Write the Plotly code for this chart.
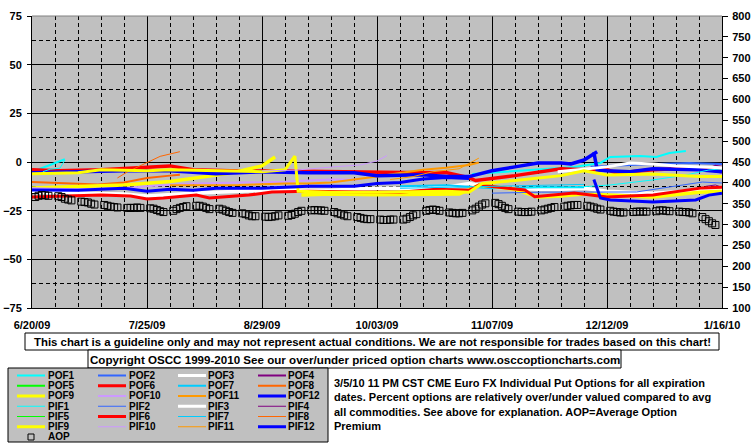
import plotly.graph_objects as go
import pandas as pd

START = pd.Timestamp("2009-06-20")
END = pd.Timestamp("2010-01-16")

# ---------------- data ----------------
x_tick_dates = ["2009-06-20", "2009-07-25", "2009-08-29", "2009-10-03", "2009-11-07", "2009-12-12", "2010-01-16"]
x_tick_labels = ["6/20/09", "7/25/09", "8/29/09", "10/03/09", "11/07/09", "12/12/09", "1/16/10"]
left_ticks = [-75, -50, -25, 0, 25, 50, 75]
right_ticks = [100, 150, 200, 250, 300, 350, 400, 450, 500, 550, 600, 650, 700, 750, 800]

# days after 6/20/09 and percent over/under values (None = gap)
POF1_days = [1.5, 5.5, 10, None, 134, 148, 165, 173, 176, 185, 190, 194, 199]
POF1_vals = [-4.1, -1.5, 1.4, None, -6.2, -4.6, -2.6, -0.5, 2.6, 3.1, 2.6, 4.6, 5.6]
POF2_days = [170, 182, 189, 200, 210]
POF2_vals = [-2.5, -1.5, -1.0, -0.5, -1.0]
POF3_days = [0, 14, 28, 35, 49, 63, 77, 91, 105, 119, 126, 133, 140, 154, 161, 168, 175, 189, 203, 210]
POF3_vals = [-15.5, -16, -16.5, -17.5, -16, -15, -14.5, -14.5, -13.5, -13.5, -13, -11, -13, -14, -14, -13.5, -15, -16, -14.5, -14]
POF4_days = [205, 208, 210]
POF4_vals = [-4.0, -2.0, -2.5]
POF5_days = []
POF5_vals = []
POF6_days = [0, 8, 21, 35, 42, 49, 63, 77, 91, 105, 119, 126, 133, 135, 147, 161, 168, 175, 178, 189, 203, 210]
POF6_vals = [-4, -4.5, -4, -2.5, -2, -4, -4.6, -4.6, -5, -5.5, -5.5, -5.4, -8, -9.5, -7, -3.5, -4, -4, -5.6, -4, -3, -5]
POF7_days = [112, 126, 140, 154, 168]
POF7_vals = [-12.5, -12, -13.5, -13, -13]
POF8_days = [0, 10, 20, 28, 35, 42, 45]
POF8_vals = [-10.3, -10.8, -11.5, -10.5, -8.2, -7, -6.5]
POF9_days = [0, 14, 28, 42, 50, 61, 65, 70, 74, None, 82, 91, 105, 119, 130, 136, 140, 147, 154, 161, 168, 175, 189, 203, 210]
POF9_vals = [-13.3, -12.5, -11.8, -10, -8.2, -5.6, -4, -2, 2.6, None, -17, -16.5, -16.8, -16.5, -16.5, -12, -12.5, -14, -18, -17.5, -16.5, -17, -18, -15.5, -15]
POF10_days = [0, 14, 28, 35, 49, 63, 77, 84, 91, 100]
POF10_vals = [-13.5, -14, -13.5, -12.5, -11, -10.5, -10.2, -9.5, -9, -9]
POF11_days = [42, 56, 63, 77, 84, 91, 98, 105, 112, 119, 126, 133, 136]
POF11_vals = [-12, -11.8, -11.8, -11, -11, -10.5, -9, -7.5, -5.6, -4, -3, -1.5, -0.3]
POF12_days = [0, 14, 28, 42, 56, 70, 84, 98, 105, 119, 126, 133, 140, 147, 154, 161, 164, 168, 172, None, 171, 172, 175, 182, 189, 203, 210]
POF12_vals = [-5.5, -5, -4.5, -4.5, -6, -5, -5.5, -5.5, -7, -6.5, -7.5, -7.5, -4.5, -2.5, -0.5, -0.5, -1, 1, 5.3, None, 5, -4, -4.5, -5, -3.5, -4, -5]

PIF1_days = [3.3, 5.5, 8.5, 10, None, 150, 165, 176, 189, 199, 206, 210]
PIF1_vals = [-5, -3.7, -3.2, 1.0, None, -13, -13, -11.8, -9.2, -6.7, -4.1, -3.5]
PIF2_days = [140, 155, 184, 195, 204, 210]
PIF2_vals = [-16, -15.5, -15.4, -12.5, -10.3, -10.8]
PIF3_days = [160, 168, 175, 182, 189, 196, 203, 210]
PIF3_vals = [-5, -3.5, -2.5, -0.5, -1, -2, -2.5, -3]
PIF4_days = [205, 208, 210]
PIF4_vals = [-12.5, -11.8, -13]
PIF5_days = []
PIF5_vals = []
PIF6_days = [0, 9, 21, 30, 35, 40, 50, 54, 66, 73, 84, 101, 112, 123, 133, 136, 150, 153, 165, 175, 189, 204, 210]
PIF6_vals = [-18, -17.5, -17, -17.5, -19, -18.5, -17, -18.5, -17, -15.4, -15, -15.4, -15.5, -14, -14.5, -11.8, -14.4, -17.8, -15.9, -18, -17, -13.3, -13]
PIF7_days = [112, 126, 140, 154, 168]
PIF7_vals = [-13.5, -13, -12.5, -12, -11.5]
PIF8_days = [26, 29, 35, 39, 45]
PIF8_vals = [-8.2, -5.1, -0.3, 2.9, 5.3]
PIF9_days = [0, 14, 21, 35, 42, 56, 70, 77, 80, 81, 91, 105, 119, 126, 133, 137, 147, 161, 168, 175, 189, 203, 210]
PIF9_vals = [-6, -5.5, -4, -4.5, -4, -4.5, -5, -4, 3, -15, -15.5, -15.5, -15.4, -15, -15.5, -11, -9.5, -7, -4.5, -6.7, -6.2, -7.5, -7.5]
PIF10_days = [70, 80, 91, 100, 105, 108]
PIF10_vals = [-4.6, -4.2, -2.6, -1.5, 0.5, 3.3]
PIF11_days = [109, 116, 122, 130, 136]
PIF11_vals = [-9, -7.5, -5, -3.5, 2]
PIF12_days = [0, 14, 28, 35, 42, 49, 56, 70, 84, 98, 105, 112, 119, 126, 133, None, 171, 173, 176, 189, 202, 206, 210]
PIF12_vals = [-14.4, -14.5, -13.5, -15, -14, -14.5, -13.5, -13.5, -12.5, -12.5, -11, -10.5, -8.7, -8, -8.5, None, -9, -18.5, -19.5, -20.5, -19.5, -17, -16]

# Average Option Premium (right axis), one value per trading session, weeks of 5
AOP_vals = [
    366, 369, 371, 370, 369,
    368, 366, 362, 360, 358,
    355, 354, 353, 350, 348,
    347, 345, 343, 342, 341,
    340, 340, 340, 341, 340,
    339, 338, 335, 332, 330,
    333, 337, 340, 342, 344,
    345, 345, 343, 340, 337,
    338, 336, 333, 330, 328,
    327, 325, 322, 320, 320,
    319, 318, 319, 320, 322,
    321, 323, 326, 330, 333,
    334, 335, 334, 334, 333,
    330, 327, 325, 322, 320,
    318, 316, 314, 313, 313,
    312, 311, 311, 312, 312,
    312, 314, 318, 322, 325,
    333, 335, 336, 335, 333,
    329, 328, 327, 327, 328,
    334, 338, 343, 348, 351,
    352, 349, 345, 340, 337,
    331, 330, 330, 330, 331,
    334, 336, 338, 340, 342,
    343, 345, 346, 347, 347,
    345, 343, 341, 338, 336,
    333, 331, 330, 329, 329,
    330, 331, 331, 331, 331,
    332, 334, 334, 333, 332,
    331, 330, 330, 329, 327,
    318, 313, 308, 303, 299,
]
AOP_dates = pd.bdate_range("2009-06-22", "2010-01-15") - pd.Timedelta(days=1)

series_names = ["POF1", "POF2", "POF3", "POF4", "POF5", "POF6", "POF7", "POF8", "POF9", "POF10", "POF11", "POF12",
                "PIF1", "PIF2", "PIF3", "PIF4", "PIF5", "PIF6", "PIF7", "PIF8", "PIF9", "PIF10", "PIF11", "PIF12"]
series_days = [POF1_days, POF2_days, POF3_days, POF4_days, POF5_days, POF6_days, POF7_days, POF8_days,
               POF9_days, POF10_days, POF11_days, POF12_days,
               PIF1_days, PIF2_days, PIF3_days, PIF4_days, PIF5_days, PIF6_days, PIF7_days, PIF8_days,
               PIF9_days, PIF10_days, PIF11_days, PIF12_days]
series_vals = [POF1_vals, POF2_vals, POF3_vals, POF4_vals, POF5_vals, POF6_vals, POF7_vals, POF8_vals,
               POF9_vals, POF10_vals, POF11_vals, POF12_vals,
               PIF1_vals, PIF2_vals, PIF3_vals, PIF4_vals, PIF5_vals, PIF6_vals, PIF7_vals, PIF8_vals,
               PIF9_vals, PIF10_vals, PIF11_vals, PIF12_vals]

# ---------------- style ----------------
base_colors = ["#00FFFF", "#3366FF", "#FFFFFF", "#800080", "#00FF00", "#FF0000",
               "#00CCFF", "#FF6600", "#FFFF00", "#CC99FF", "#FF9900", "#0000FF"]
pof_widths = [2, 2, 3.5, 2, 2, 3.5, 2, 2, 3.5, 2, 2, 3.5]
pif_widths = [1, 1, 3, 1, 1, 3, 1, 1, 3, 1, 1, 3]
colors = base_colors + base_colors
widths = pof_widths + pif_widths

FONT = "Liberation Sans"
W, H = 755, 446
ML, MR, MT, MB = 32, 33, 16, 138
PW, PH = W - ML - MR, H - MT - MB


def px_x(px):
    return (px - ML) / PW


def px_y(py):
    return (H - MB - py) / PH


def to_dates(days):
    return [None if d is None else START + pd.Timedelta(days=d) for d in days]


fig = go.Figure()
for name, d, v, c, w in zip(series_names, series_days, series_vals, colors, widths):
    fig.add_trace(go.Scatter(x=to_dates(d), y=v, mode="lines", name=name,
                             line=dict(color=c, width=w), connectgaps=False,
                             showlegend=False, hoverinfo="skip"))

fig.add_trace(go.Scatter(x=AOP_dates, y=AOP_vals, mode="markers", name="AOP", yaxis="y2",
                         marker=dict(symbol="square-open", size=7, color="black", line=dict(width=1, color="black")),
                         showlegend=False, hoverinfo="skip"))

tickfont = dict(family=FONT, size=11, color="black", weight="bold")

fig.update_layout(
    width=W, height=H, autosize=False,
    margin=dict(l=ML, r=MR, t=MT, b=MB, pad=0, autoexpand=False),
    paper_bgcolor="white", plot_bgcolor="#C0C0C0",
    font=dict(family=FONT, size=11, color="black", weight="bold"),
    showlegend=False,
    xaxis=dict(type="date", range=[START, END], tickmode="array", tickvals=x_tick_dates, ticktext=x_tick_labels,
               showgrid=True, gridcolor="black", gridwidth=1, showline=True, linecolor="black", linewidth=1,
               ticks="", tickfont=tickfont, ticklabelstandoff=7, zeroline=False, fixedrange=True,
               automargin=False,
               minor=dict(tick0="2009-06-20", dtick=7 * 86400000, showgrid=True, gridcolor="black",
                          gridwidth=1, griddash="4px,3px")),
    yaxis=dict(range=[-75, 75], tickmode="array", tickvals=left_ticks, showgrid=True, gridcolor="black",
               gridwidth=1, showline=True, linecolor="black", linewidth=1, ticks="outside", ticklen=4,
               tickcolor="black", tickfont=tickfont, zeroline=False, ticklabelstandoff=3, fixedrange=True,
               automargin=False,
               minor=dict(tick0=12.5, dtick=25, showgrid=True, gridcolor="black", gridwidth=1,
                          griddash="4px,3px")),
    yaxis2=dict(range=[100, 800], overlaying="y", side="right", tickmode="array", tickvals=right_ticks,
                showgrid=False, showline=True, linecolor="black", linewidth=1, ticks="outside", ticklen=5,
                tickcolor="black", tickfont=tickfont, zeroline=False, ticklabelstandoff=2, fixedrange=True,
                automargin=False),
)

shapes = [
    dict(type="line", xref="paper", yref="paper", x0=0, x1=1, y0=1, y1=1, line=dict(color="#808080", width=1)),
    # disclaimer box
    dict(type="rect", xref="paper", yref="paper", x0=px_x(25), x1=px_x(719), y0=px_y(333), y1=px_y(350),
         line=dict(color="black", width=1), fillcolor="white"),
    # copyright box
    dict(type="rect", xref="paper", yref="paper", x0=px_x(88), x1=px_x(621), y0=px_y(350), y1=px_y(368),
         line=dict(color="black", width=1), fillcolor="white"),
    # legend box
    dict(type="rect", xref="paper", yref="paper", x0=px_x(8), x1=px_x(328), y0=px_y(368), y1=px_y(442),
         line=dict(color="black", width=1), fillcolor="#C0C0C0"),
]
annotations = [
    dict(xref="paper", yref="paper", x=px_x(372), y=px_y(341.5), xanchor="center", yanchor="middle",
         showarrow=False, font=dict(size=11.4),
         text="This chart is a guideline only and may not represent actual conditions. We are not responsible for trades based on this chart!"),
    dict(xref="paper", yref="paper", x=px_x(354.5), y=px_y(359), xanchor="center", yanchor="middle",
         showarrow=False, font=dict(size=11.6),
         text="Copyright OSCC 1999-2010 See our over/under priced option charts www.osccoptioncharts.com"),
    dict(xref="paper", yref="paper", x=px_x(332), y=px_y(375), xanchor="left", yanchor="top", align="left",
         showarrow=False, font=dict(size=11),
         text="3/5/10 11 PM CST CME Euro FX Individual Put Options for all expiration<br>"
              "dates. Percent options are relatively over/under valued compared to avg<br>"
              "all commodities. See above for explanation. AOP=Average Option<br>"
              "Premium"),
]

# manual legend: 4 columns x 6 rows + AOP
col_line_x = [17, 98, 178, 258]
col_text_x = [47, 128, 207, 287]
row_y0, row_dy = 375.5, 10.25
legend_font = dict(size=10)
for i, (name, c, w) in enumerate(zip(series_names, colors, widths)):
    row, col = divmod(i, 4)
    yy = row_y0 + row * row_dy
    shapes.append(dict(type="line", xref="paper", yref="paper", x0=px_x(col_line_x[col]),
                       x1=px_x(col_line_x[col] + 28), y0=px_y(yy), y1=px_y(yy),
                       line=dict(color=c, width=min(w, 3))))
    annotations.append(dict(xref="paper", yref="paper", x=px_x(col_text_x[col]), y=px_y(yy),
                            xanchor="left", yanchor="middle", showarrow=False, text=name,
                            font=legend_font, borderpad=0))
yy = row_y0 + 6 * row_dy
shapes.append(dict(type="rect", xref="paper", yref="paper", x0=px_x(28), x1=px_x(34), y0=px_y(yy - 3),
                   y1=px_y(yy + 3), line=dict(color="black", width=1), fillcolor="rgba(0,0,0,0)"))
annotations.append(dict(xref="paper", yref="paper", x=px_x(col_text_x[0]), y=px_y(yy),
                        xanchor="left", yanchor="middle", showarrow=False, text="AOP",
                        font=legend_font, borderpad=0))

fig.update_layout(shapes=shapes, annotations=annotations)
fig.write_html("out.html", config={"displayModeBar": False},
               post_script="document.documentElement.style.margin='0';document.body.style.margin='0';document.body.style.padding='0';")
